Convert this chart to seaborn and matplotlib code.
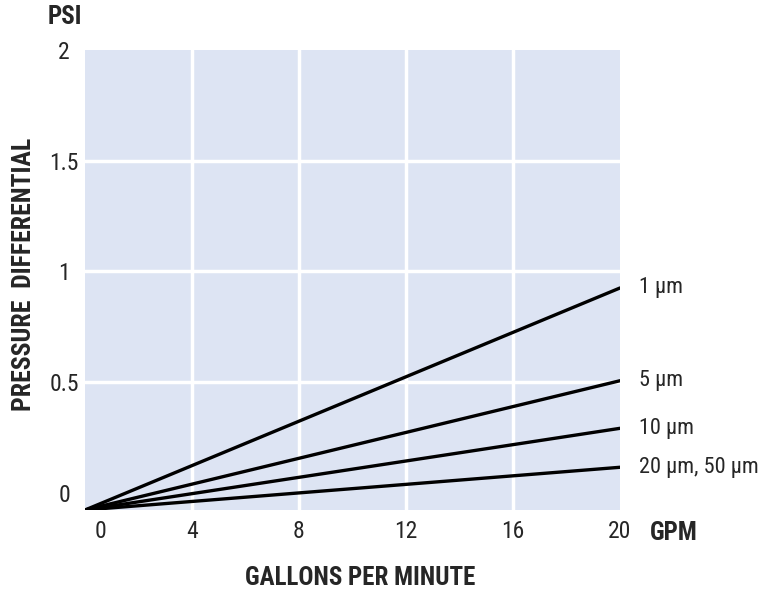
import pandas as pd
import matplotlib
matplotlib.use('Agg')
from matplotlib import pyplot as plt
from matplotlib import transforms
import seaborn as sns

# flow rate (GPM) at the two ends of each line
flow_gpm = [0, 20]
# pressure differential (PSI), start and end of each line
series_labels = ['1 µm', '5 µm', '10 µm', '20 µm, 50 µm']
psi_1um = [-0.078, 0.925]
psi_5um = [-0.078, 0.506]
psi_10um = [-0.078, 0.291]
psi_20um = [-0.078, 0.115]

x_ticks = [0, 4, 8, 12, 16, 20]
y_ticks = [0, 0.5, 1, 1.5, 2]
y_tick_labels = ['0', '0.5', '1', '1.5', '2']

BG_COLOR = '#dde4f3'
FONT = ['Roboto Condensed', 'Liberation Sans Narrow', 'DejaVu Sans']

sns.set_theme(style='white')
plt.rcParams['font.family'] = FONT

df = pd.concat([
    pd.DataFrame({'gpm': flow_gpm, 'psi': vals, 'series': name})
    for name, vals in zip(series_labels, [psi_1um, psi_5um, psi_10um, psi_20um])
])

fig = plt.figure(figsize=(7.72, 5.92), dpi=100)
ax = fig.add_axes([85 / 772, 82 / 592, 535 / 772, 460 / 592])
ax.set_facecolor(BG_COLOR)

sns.lineplot(data=df, x='gpm', y='psi', hue='series',
             palette=['black'] * len(series_labels), linewidth=2.4,
             legend=False, ax=ax)

ax.set_xlim(0, 20)
ax.set_ylim(-0.078, 2)
sns.despine(ax=ax, left=True, bottom=True)

# white grid, only the inner lines
for gx in x_ticks[1:-1]:
    ax.axvline(gx, color='white', linewidth=2.5, zorder=1)
for gy in y_ticks[1:-1]:
    ax.axhline(gy, color='white', linewidth=2.5, zorder=1)

ax.set_xticks(x_ticks)
ax.set_xticklabels([str(t) for t in x_ticks], fontsize=17)
ax.set_yticks(y_ticks)
ax.set_yticklabels(y_tick_labels, fontsize=17, ha='center')
ax.tick_params(axis='x', length=0, pad=7)
ax.tick_params(axis='y', length=0, pad=15)
# nudge the corner "0" away from the origin like the original
first = ax.get_xticklabels()[0]
first.set_transform(first.get_transform() + transforms.ScaledTranslation(0.15, 0, fig.dpi_scale_trans))

ax.set_xlabel('')
ax.set_ylabel('')

# series labels at line ends
for name, vals in zip(series_labels, [psi_1um, psi_5um, psi_10um, psi_20um]):
    ax.text(20.7, vals[-1], name, fontsize=16, va='center', ha='left', clip_on=False)

fig.text(65 / 772, 1 - 17 / 592, 'PSI', fontsize=18, fontweight='bold', ha='center', va='center')
fig.text(24 / 772, 1 - 274 / 592, 'PRESSURE  DIFFERENTIAL', fontsize=18.5, fontweight='bold',
         rotation=90, ha='center', va='center')
fig.text(360 / 772, 1 - 578 / 592, 'GALLONS PER MINUTE', fontsize=18, fontweight='bold',
         ha='center', va='center')
fig.text(674 / 772, 1 - 533 / 592, 'GPM', fontsize=18, fontweight='bold', ha='center', va='center')

fig.savefig('out.png', dpi=100)
plt.close(fig)
